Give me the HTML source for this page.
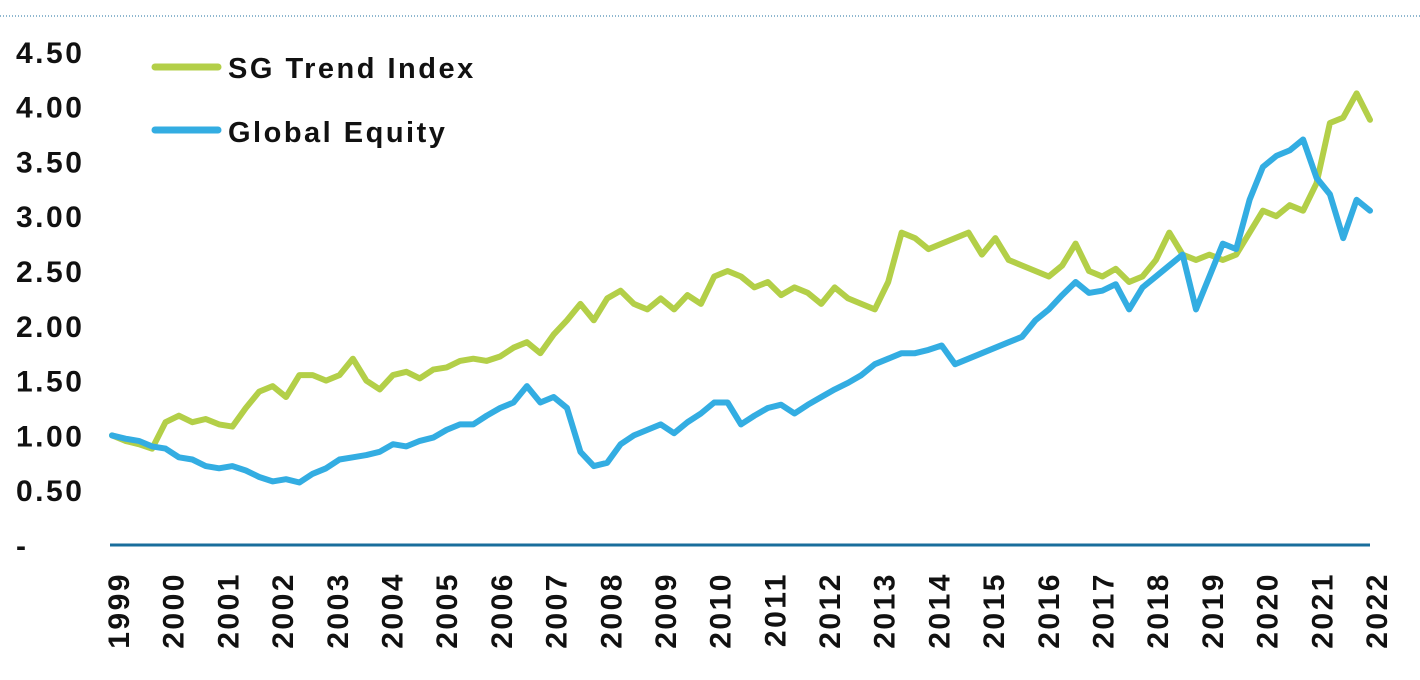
<!DOCTYPE html>
<html><head><meta charset="utf-8"><style>
body{margin:0;background:#fff;}
svg{display:block;font-family:"Liberation Sans",sans-serif;font-weight:bold;}
</style></head><body>
<svg width="1420" height="680">
<line x1="0" y1="16" x2="1420" y2="16" stroke="#1f6f9f" stroke-width="1" stroke-dasharray="1,2"/>
<g id="yaxis"></g>
<g id="xaxis"></g>
<g id="series"></g>
<g>
<g><line x1="155" y1="67" x2="218" y2="67" stroke="#b3cf48" stroke-width="7" stroke-linecap="round"/><text x="228" y="78" font-size="29" letter-spacing="2.5" fill="#111">SG Trend Index</text></g>
<g><line x1="155" y1="130" x2="218" y2="130" stroke="#33ade2" stroke-width="7" stroke-linecap="round"/><text x="228" y="142" font-size="29" letter-spacing="2.5" fill="#111">Global Equity</text></g>
</g>
</svg>
<script>
const years=[1999,2000,2001,2002,2003,2004,2005,2006,2007,2008,2009,2010,2011,2012,2013,2014,2015,2016,2017,2018,2019,2020,2021,2022];
const yTicks=[0,0.5,1,1.5,2,2.5,3,3.5,4,4.5];
const yTickLabels=["-","0.50","1.00","1.50","2.00","2.50","3.00","3.50","4.00","4.50"];
const sgTrend=[1.00,0.95,0.92,0.88, 1.12,1.18,1.12,1.15, 1.10,1.08,1.25,1.40, 1.45,1.35,1.55,1.55, 1.50,1.55,1.70,1.50, 1.42,1.55,1.58,1.52, 1.60,1.62,1.68,1.70, 1.68,1.72,1.80,1.85, 1.75,1.92,2.05,2.20, 2.05,2.25,2.32,2.20, 2.15,2.25,2.15,2.28, 2.20,2.45,2.50,2.45, 2.35,2.40,2.28,2.35, 2.30,2.20,2.35,2.25, 2.20,2.15,2.40,2.85, 2.80,2.70,2.75,2.80, 2.85,2.65,2.80,2.60, 2.55,2.50,2.45,2.55, 2.75,2.50,2.45,2.52, 2.40,2.45,2.60,2.85, 2.65,2.60,2.65,2.60, 2.65,2.85,3.05,3.00, 3.10,3.05,3.30,3.85, 3.90,4.12,3.88];
const globalEquity=[1.00,0.97,0.95,0.90, 0.88,0.80,0.78,0.72, 0.70,0.72,0.68,0.62, 0.58,0.60,0.57,0.65, 0.70,0.78,0.80,0.82, 0.85,0.92,0.90,0.95, 0.98,1.05,1.10,1.10, 1.18,1.25,1.30,1.45, 1.30,1.35,1.25,0.85, 0.72,0.75,0.92,1.00, 1.05,1.10,1.02,1.12, 1.20,1.30,1.30,1.10, 1.18,1.25,1.28,1.20, 1.28,1.35,1.42,1.48, 1.55,1.65,1.70,1.75, 1.75,1.78,1.82,1.65, 1.70,1.75,1.80,1.85, 1.90,2.05,2.15,2.28, 2.40,2.30,2.32,2.38, 2.15,2.35,2.45,2.55, 2.65,2.15,2.45,2.75, 2.70,3.15,3.45,3.55, 3.60,3.70,3.35,3.20, 2.80,3.15,3.05];
const NS="http://www.w3.org/2000/svg";
const x0=112,x1=1370,yBase=545,yPer=109.6;
const X=t=>x0+(t-1999)/23*(x1-x0);
const Y=v=>yBase-v*yPer;
function mk(tag,attrs,parent){const e=document.createElementNS(NS,tag);for(const k in attrs)e.setAttribute(k,attrs[k]);parent.appendChild(e);return e;}
const ya=document.getElementById('yaxis');
yTicks.forEach((v,i)=>{const t=mk('text',{x:16,y:Y(v)+11,'font-size':30,'letter-spacing':2.5,fill:'#111'},ya);t.textContent=yTickLabels[i];

});
const xa=document.getElementById('xaxis');
const ax=mk('line',{x1:110,y1:yBase,x2:1370,y2:yBase,stroke:'#1a6e9c','stroke-width':3},xa);


years.forEach(yr=>{const x=X(yr)+6;const t=mk('text',{x:0,y:0,'font-size':30,'letter-spacing':2.5,fill:'#111','text-anchor':'end',transform:`translate(${x+11},572) rotate(-90)`},xa);t.textContent=yr;

});
const sg=document.getElementById('series');
function draw(arr,color,name){const n=arr.length;const pts=arr.map((v,i)=>(x0+i/(n-1)*(x1-x0)).toFixed(1)+','+Y(v).toFixed(1)).join(' ');
const p=mk('polyline',{points:pts,fill:'none',stroke:color,'stroke-width':6,'stroke-linejoin':'round','stroke-linecap':'round'},sg);

}
draw(sgTrend,'#b3cf48','sg-trend-line');
draw(globalEquity,'#33ade2','global-equity-line');
</script>
</body></html>
